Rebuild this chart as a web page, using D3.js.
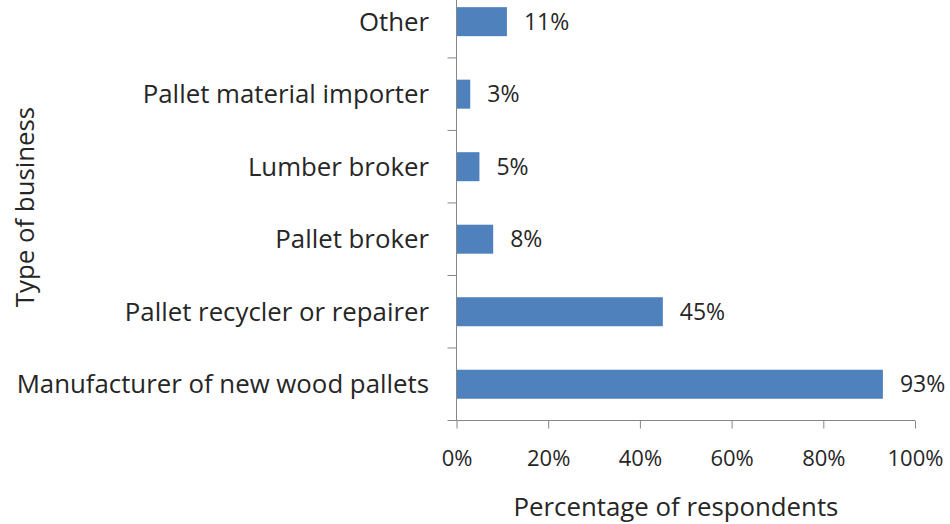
<!DOCTYPE html>
<html>
<head>
<meta charset="utf-8">
<script src="https://cdn.jsdelivr.net/npm/d3@7"></script>
<style>
  body { margin: 0; background: #fff; }
  text { font-family: "Open Sans", sans-serif; fill: #262626; }
  .axis path, .axis line { stroke: #868686; }
</style>
</head>
<body>
<div id="chart"></div>
<script>
// DATA
var categories = ["Manufacturer of new wood pallets", "Pallet recycler or repairer",
  "Pallet broker", "Lumber broker", "Pallet material importer", "Other"];
var values = [93, 45, 8, 5, 3, 11];
var xTicks = [0, 20, 40, 60, 80, 100];

var W = 950, H = 524;
var x0 = 456.5, x1 = 915, yTop = -14.6, yBot = 420.5;
var fsSmall = '22px', fsVal = '23px', fsBig = '25.8px';

var svg = d3.select('#chart').append('svg')
  .attr('width', W).attr('height', H);

var xScale = d3.scaleLinear().domain([0, 100]).range([x0, x1]);
var yScale = d3.scaleBand().domain(categories).range([yBot, yTop]).paddingInner(0.6).paddingOuter(0.3);

// bars
svg.selectAll('.bar').data(values).enter().append('rect')
  .attr('class', 'bar')
  .attr('x', x0)
  .attr('y', function(d, i) { return yScale(categories[i]); })
  .attr('width', function(d) { return xScale(d) - x0; })
  .attr('height', yScale.bandwidth())
  .attr('fill', '#4F81BD');

// value labels
svg.selectAll('.val').data(values).enter().append('text')
  .attr('x', function(d) { return xScale(d) + 17; })
  .attr('y', function(d, i) { return yScale(categories[i]) + yScale.bandwidth() / 2; })
  .attr('dy', '0.35em')
  .style('font-size', fsVal)
  .text(function(d) { return d + '%'; });

// y axis: line + boundary ticks
var step = (yBot - yTop) / categories.length;
var yAxis = svg.append('g').attr('class', 'axis');
yAxis.append('line').attr('x1', x0).attr('x2', x0).attr('y1', 0).attr('y2', yBot);
d3.range(0, categories.length + 1).forEach(function(i) {
  var y = yBot - i * step;
  if (y < 0) return;
  yAxis.append('line').attr('x1', x0 - 9).attr('x2', x0).attr('y1', y).attr('y2', y);
});
svg.selectAll('.cat').data(categories).enter().append('text')
  .attr('x', 429)
  .attr('y', function(d) { return yScale(d) + yScale.bandwidth() / 2; })
  .attr('dy', '0.35em')
  .attr('text-anchor', 'end')
  .style('font-size', fsBig)
  .text(function(d) { return d; });

// x axis
var xAxis = d3.axisBottom(xScale).tickValues(xTicks).tickSize(8).tickPadding(22)
  .tickFormat(function(d) { return d + '%'; });
svg.append('g').attr('class', 'axis')
  .attr('transform', 'translate(0,' + yBot + ')')
  .call(xAxis)
  .call(function(g) { g.select('.domain').attr('d', 'M' + x0 + ',0H' + x1); })
  .selectAll('text').style('font-size', fsSmall);

// axis titles
svg.append('text')
  .attr('x', 676).attr('y', 516)
  .attr('text-anchor', 'middle')
  .style('font-size', fsBig)
  .text('Percentage of respondents');

svg.append('text')
  .attr('transform', 'translate(34,207) rotate(-90)')
  .attr('text-anchor', 'middle')
  .style('font-size', fsBig)
  .text('Type of business');
</script>
</body>
</html>
